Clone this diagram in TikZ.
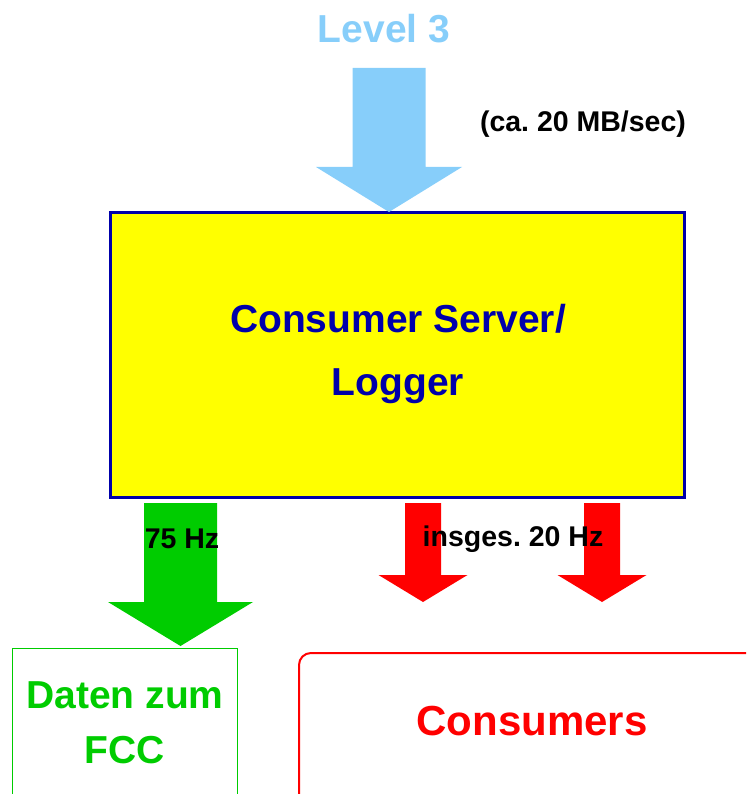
\documentclass[tikz,border=0pt]{standalone}
\usepackage{fontspec}
\setmainfont{Liberation Sans}
\frenchspacing
\definecolor{skyarrow}{RGB}{135,206,250}
\definecolor{navyline}{RGB}{0,0,170}
\definecolor{fccgreen}{RGB}{0,204,0}
\definecolor{boxyellow}{RGB}{255,255,0}
\definecolor{consred}{RGB}{255,0,0}
% block arrow pointing down: colour, centre x, top y, head y, tip y, shaft half width, head half width
\newcommand{\downblock}[7]{%
  \fill[#1] ({#2-#6},#3) -- ({#2+#6},#3) -- ({#2+#6},#4) -- ({#2+#7},#4)
    -- (#2,#5) -- ({#2-#7},#4) -- ({#2-#6},#4) -- cycle;}
\begin{document}
\begin{tikzpicture}[x=1pt,y=-1pt,
  bigtext/.style={font=\bfseries\fontsize{39}{63}\selectfont,align=center,inner sep=0pt},
  ratetext/.style={font=\bfseries\fontsize{28.5}{34}\selectfont,inner sep=0pt}]
\useasboundingbox (0,0) rectangle (746,794);
\clip (0,0) rectangle (746,794);

% central logger box
\node[draw=navyline,line width=3pt,fill=boxyellow,minimum width=574pt,minimum height=285pt,inner sep=0pt]
  (logger) at (397.5,355) {};
\node[bigtext,text=navyline] (loggertext) at (398,354) {Consumer Server/\\Logger};

% target boxes
\draw[fccgreen,line width=1pt] (12,800) -- (12,648) -- (237,648) -- (237,800);
\coordinate (fcctop) at (181,648);
\node[bigtext,text=fccgreen,font=\bfseries\fontsize{39}{55}\selectfont] (fcctext) at (125,723) {Daten zum\\FCC};
\draw[consred,line width=2pt,rounded corners=12pt] (299,810) -- (299,653) -- (760,653);
\node[bigtext,text=consred,font=\bfseries\fontsize{42}{50}\selectfont] (constext) at (532,721) {Consumers};

% incoming data stream
\node[bigtext,text=skyarrow] (level) at (384,29) {Level 3};
\downblock{skyarrow}{389}{68}{167}{212}{36.5}{73}
\node[ratetext] (rate) at (583,124) {(ca. 20 MB/sec)};

% outgoing streams
\downblock{fccgreen}{180.5}{503}{602}{646}{36.5}{72.5}
\downblock{consred}{423}{503}{575}{602}{18}{44.5}
\downblock{consred}{602}{503}{575}{602}{18}{44.5}
\node[ratetext] (fccrate) at (182,539) {75 Hz};
\node[ratetext] (consrate) at (513,539) {insges. 20 Hz};
\end{tikzpicture}
\end{document}
